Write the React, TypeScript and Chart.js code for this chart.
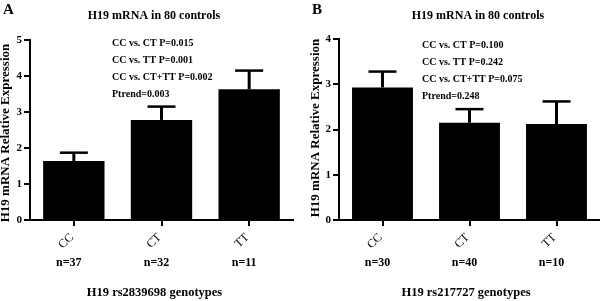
import React, { useEffect, useRef } from "react";
import { Chart, registerables } from "chart.js";

Chart.register(...registerables);

// ---- Data ----
const genotypes = ["CC", "CT", "TT"];

const aMeans = [1.64, 2.78, 3.63];
const aErrors = [0.23, 0.37, 0.52];
const aCounts = ["n=37", "n=32", "n=11"];
const aNotes = ["CC vs. CT P=0.015", "CC vs. TT P=0.001", "CC vs. CT+TT P=0.002", "Ptrend=0.003"];
const aYTicksMax = 5;
const aXTitle = "H19 rs2839698 genotypes";

const bMeans = [2.93, 2.15, 2.12];
const bErrors = [0.35, 0.3, 0.5];
const bCounts = ["n=30", "n=40", "n=10"];
const bNotes = ["CC vs. CT P=0.100", "CC vs. TT P=0.242", "CC vs. CT+TT P=0.075", "Ptrend=0.248"];
const bYTicksMax = 4;
const bXTitle = "H19 rs217727 genotypes";

const chartTitle = "H19 mRNA in 80 controls";
const yTitle = "H19 mRNA Relative Expression";

const SERIF = '"Liberation Serif", "Times New Roman", serif';

type PanelProps = {
  letter: string;
  letterX: number;
  means: number[];
  errors: number[];
  counts: string[];
  notes: string[];
  yMax: number;
  xTitle: string;
  yAxisWidth: number;
  padRight: number;
  padTop: number;
  titleX: number;
  notesX: number;
  notesY: number;
  yTitleX: number;
  yTitleY: number;
  xTitleX: number;
  left: number;
};

function Panel(p: PanelProps) {
  const ref = useRef<HTMLCanvasElement | null>(null);
  useEffect(() => {
    const canvas = ref.current;
    if (!canvas) return;
    const overlay = {
      id: "overlay",
      afterDatasetsDraw(chart: any) {
        const ctx = chart.ctx as CanvasRenderingContext2D;
        const xs = chart.scales.x;
        const ys = chart.scales.y;
        ctx.save();
        ctx.strokeStyle = "#000";
        p.means.forEach((m, i) => {
          const x = xs.getPixelForValue(i);
          const yTop = ys.getPixelForValue(m + p.errors[i]);
          const yM = ys.getPixelForValue(m);
          ctx.lineWidth = 3;
          ctx.beginPath();
          ctx.moveTo(x, yM);
          ctx.lineTo(x, yTop);
          ctx.stroke();
          ctx.lineWidth = 2.5;
          ctx.beginPath();
          ctx.moveTo(x - 14, yTop);
          ctx.lineTo(x + 14, yTop);
          ctx.stroke();
        });
        ctx.restore();
      },
      afterDraw(chart: any) {
        const ctx = chart.ctx as CanvasRenderingContext2D;
        const xs = chart.scales.x;
        ctx.save();
        ctx.fillStyle = "#000";
        // panel letter
        ctx.font = `bold 15px ${SERIF}`;
        ctx.textAlign = "left";
        ctx.textBaseline = "alphabetic";
        ctx.fillText(p.letter, p.letterX, 14);
        // title
        ctx.font = `bold 12px ${SERIF}`;
        ctx.textAlign = "center";
        ctx.textBaseline = "middle";
        ctx.fillText(chartTitle, p.titleX, 16);
        // notes
        ctx.font = `bold 10px ${SERIF}`;
        ctx.textAlign = "left";
        p.notes.forEach((t, i) => {
          ctx.fillText(t, p.notesX, p.notesY + i * 17.2);
        });
        // y title
        ctx.save();
        ctx.translate(p.yTitleX, p.yTitleY);
        ctx.rotate(-Math.PI / 2);
        ctx.font = `bold 13px ${SERIF}`;
        ctx.textAlign = "center";
        ctx.textBaseline = "middle";
        ctx.fillText(yTitle, 0, 0);
        ctx.restore();
        // category labels rotated
        genotypes.forEach((g, i) => {
          const x = xs.getPixelForValue(i);
          ctx.save();
          ctx.translate(x - 2, 235.5);
          ctx.rotate(-Math.PI / 4);
          ctx.font = `12px ${SERIF}`;
          ctx.textAlign = "right";
          ctx.textBaseline = "middle";
          ctx.fillText(g, 0, 0);
          ctx.restore();
        });
        // counts
        ctx.font = `bold 12px ${SERIF}`;
        ctx.textAlign = "center";
        ctx.textBaseline = "middle";
        p.counts.forEach((c, i) => {
          const x = xs.getPixelForValue(i);
          ctx.fillText(c, x - 5, 263);
        });
        // x title
        ctx.font = `bold 12.5px ${SERIF}`;
        ctx.fillText(p.xTitle, p.xTitleX, 293);
        ctx.restore();
      },
    };
    const chart = new Chart(canvas, {
      type: "bar",
      data: {
        labels: genotypes,
        datasets: [
          {
            data: p.means,
            backgroundColor: "#000",
            borderWidth: 0,
            barPercentage: 0.7,
            categoryPercentage: 1,
          },
        ],
      },
      options: {
        responsive: false,
        animation: false,
        events: [],
        layout: { padding: { left: 0, right: p.padRight, top: p.padTop, bottom: 0 } },
        plugins: { legend: { display: false }, tooltip: { enabled: false }, title: { display: false } },
        scales: {
          x: {
            grid: {
              display: true,
              drawOnChartArea: false,
              drawTicks: true,
              tickLength: 6,
              color: "#000",
              lineWidth: 2,
              offset: false,
            },
            border: { display: true, color: "#000", width: 2 },
            ticks: { display: false },
            afterFit: (s: any) => {
              s.height = 81;
            },
          },
          y: {
            min: 0,
            max: p.yMax,
            grid: {
              display: true,
              drawOnChartArea: false,
              drawTicks: true,
              tickLength: 6,
              color: "#000",
              lineWidth: 2,
            },
            border: { display: true, color: "#000", width: 2 },
            ticks: {
              stepSize: 1,
              color: "#000",
              padding: 2,
              font: { family: SERIF, size: 11, weight: "bold" },
            },
            afterFit: (s: any) => {
              s.width = p.yAxisWidth;
            },
          },
        },
      },
      plugins: [overlay],
    } as any);
    return () => chart.destroy();
  }, []);
  return (
    <div style={{ position: "absolute", left: p.left, top: 0, width: 300, height: 301 }}>
      <canvas ref={ref} width={300} height={301} style={{ width: 300, height: 301, display: "block" }} />
    </div>
  );
}

export default function App() {
  return (
    <div style={{ position: "fixed", left: 0, top: 0, width: 600, height: 301, background: "#fff", overflow: "hidden" }}>
      <Panel
        letter="A"
        letterX={3}
        means={aMeans}
        errors={aErrors}
        counts={aCounts}
        notes={aNotes}
        yMax={aYTicksMax}
        xTitle={aXTitle}
        yAxisWidth={30}
        padRight={7}
        padTop={40}
        titleX={154}
        notesX={112}
        notesY={43}
        yTitleX={6}
        yTitleY={133}
        xTitleX={154.5}
        left={0}
      />
      <Panel
        letter="B"
        letterX={12}
        means={bMeans}
        errors={bErrors}
        counts={bCounts}
        notes={bNotes}
        yMax={bYTicksMax}
        xTitle={bXTitle}
        yAxisWidth={39}
        padRight={0}
        padTop={39}
        titleX={178}
        notesX={122}
        notesY={45}
        yTitleX={16}
        yTitleY={128}
        xTitleX={166}
        left={300}
      />
    </div>
  );
}
